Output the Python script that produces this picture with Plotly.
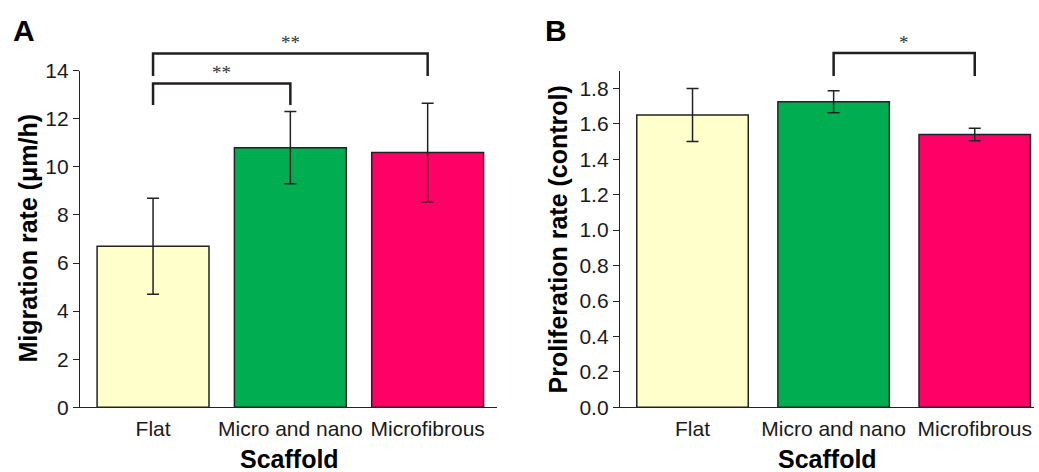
import plotly.graph_objects as go

# ---------------- data ----------------
categories = ["Flat", "Micro and nano", "Microfibrous"]
migration_rate = [6.7, 10.8, 10.6]
migration_err = [2.0, 1.5, 2.05]
proliferation_rate = [1.65, 1.725, 1.54]
proliferation_err = [0.15, 0.062, 0.035]
bar_colors = ["#FFFFCC", "#00AD50", "#FF0066"]

# significance brackets: (from category, to category, bar height, leg end, label)
sig_A = [(0, 1, 13.47, 12.57, "**"), (0, 2, 14.72, 13.78, "**")]
sig_B = [(1, 2, 2.0, 1.87, "*")]

# ---------------- layout constants ----------------
W, H = 1039, 472
YDOM = [(472 - 407.3) / H, (472 - 70.7) / H]
XDOM_A = [80 / W, 497 / W]
XDOM_B = [620 / W, 1034 / W]
YR_A = [0, 14]
YR_B = [0, 1.9]
XR_A = [-0.532, 2.505]
XR_B = [-0.514, 2.42]

FONT = "Liberation Sans, Arial, sans-serif"
AX_COLOR = "#222222"

fig = go.Figure()

for vals, errs, xa, ya, width in [
    (migration_rate, migration_err, "x", "y", 0.815),
    (proliferation_rate, proliferation_err, "x2", "y2", 0.79),
]:
    fig.add_trace(go.Bar(
        x=categories, y=vals, xaxis=xa, yaxis=ya, width=width,
        marker=dict(color=bar_colors, line=dict(color="#222222", width=1.5)),
        error_y=dict(type="data", array=errs, visible=True, color="#222222",
                     thickness=1.5, width=6),
        showlegend=False, hoverinfo="skip",
    ))


def ypaper(v, yr):
    return YDOM[0] + (v - yr[0]) / (yr[1] - yr[0]) * (YDOM[1] - YDOM[0])


shapes = []
annotations = []
for sig, xref, yref, yr in [(sig_A, "x", "y", YR_A), (sig_B, "x2", "y2", YR_B)]:
    for i, j, top, leg, lab in sig:
        yt = ypaper(top, yr)
        yl = ypaper(leg, yr)
        shapes.append(dict(
            type="path", xref=xref, yref="paper",
            path=f"M {i},{yl} L {i},{yt} L {j},{yt} L {j},{yl}",
            line=dict(color="#231F20", width=2.5),
        ))
        annotations.append(dict(
            x=(i + j) / 2, y=yt, xref=xref, yref="paper", text=lab,
            showarrow=False, xanchor="center", yanchor="bottom", yshift=-2,
            font=dict(family="Liberation Serif, Times New Roman, serif", size=19, color="#333333"),
        ))


def label(x, y, text, size, angle=0, xanchor="center", yanchor="middle"):
    annotations.append(dict(x=x / W, y=1 - y / H, xref="paper", yref="paper", text=text,
                            textangle=angle, showarrow=False, xanchor=xanchor, yanchor=yanchor,
                            font=dict(family=FONT, size=size, color="#000000")))


# panel letters
label(11, 12, "<b>A</b>", 30, xanchor="left", yanchor="top")
label(543, 12, "<b>B</b>", 30, xanchor="left", yanchor="top")
# axis titles
label(27.5, 238, "<b>Migration rate (μm/h)</b>", 25, angle=-90)
label(557.5, 240, "<b>Proliferation rate (control)</b>", 25, angle=-90)
label(289, 459, "<b>Scaffold</b>", 25)
label(827, 459, "<b>Scaffold</b>", 25)

tickfont = dict(family=FONT, size=21, color="#1a1a1a")
xcommon = dict(showline=True, linecolor=AX_COLOR, linewidth=1.3, ticks="outside",
               ticklen=2, tickcolor="rgba(0,0,0,0)", tickfont=tickfont, showgrid=False,
               zeroline=False, fixedrange=True, automargin=False)
ycommon = dict(showline=True, linecolor=AX_COLOR, linewidth=1.3, ticks="outside",
               ticklen=6, tickwidth=1.3, tickcolor=AX_COLOR, tickfont=tickfont,
               showgrid=False, zeroline=False, fixedrange=True, automargin=False)

fig.update_layout(
    width=W, height=H, margin=dict(l=0, r=0, t=0, b=0, pad=0), autosize=False,
    paper_bgcolor="white", plot_bgcolor="white", bargap=0.2,
    xaxis=dict(domain=XDOM_A, range=XR_A, anchor="y", **xcommon),
    yaxis=dict(domain=YDOM, range=YR_A, dtick=2, anchor="x", **ycommon),
    xaxis2=dict(domain=XDOM_B, range=XR_B, anchor="y2", **xcommon),
    yaxis2=dict(domain=YDOM, range=YR_B, dtick=0.2, tickformat=".1f", anchor="x2", **ycommon),
    shapes=shapes, annotations=annotations,
)

fig.write_html(
    "out.html",
    config={"displayModeBar": False},
    post_script="document.body.style.margin='0';document.body.style.overflow='hidden';",
)
